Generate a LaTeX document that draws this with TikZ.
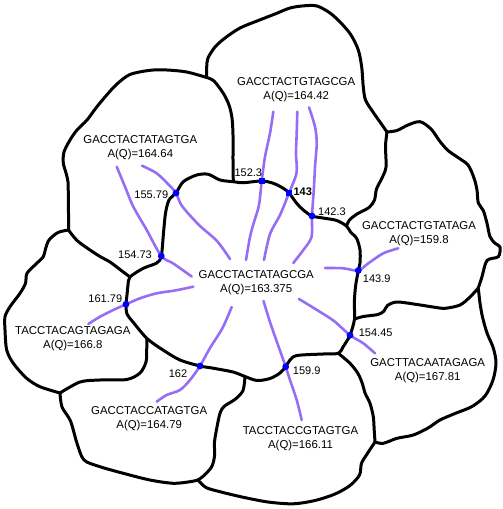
\documentclass[tikz,border=0pt]{standalone}
\usepackage{fontspec}
\setmainfont{Liberation Sans}
\definecolor{edgepurple}{RGB}{150,110,245}
\definecolor{dotblue}{RGB}{0,0,255}
\begin{document}
\begin{tikzpicture}[x=1pt,y=-1pt,
  bound/.style={line width=3pt, line join=round, line cap=round},
  edge/.style={line width=2.6pt, draw=edgepurple, line cap=round, line join=round},
  dot/.style={circle, fill=dotblue, inner sep=0pt, minimum size=6.8pt},
  sqdot/.style={rectangle, fill=dotblue, inner sep=0pt, minimum size=6.2pt},
  reg/.style={align=center, font=\fontsize{11.4}{14}\selectfont, inner sep=0pt},
  num/.style={font=\fontsize{11}{13}\selectfont, inner sep=0pt}]
\useasboundingbox (0,0) rectangle (503,509);
% junctions
\coordinate (J1) at (206.7,77.5);
\coordinate (J2) at (233.3,181.7);
\coordinate (J3) at (387,132);
\coordinate (J4) at (346.5,226);
\coordinate (J5) at (354.5,319);
\coordinate (J6) at (478.3,288);
\coordinate (J7) at (338.3,353.3);
\coordinate (J8) at (375,442);
\coordinate (J9) at (245,376.5);
\coordinate (J10) at (198,480);
\coordinate (J11) at (147,338.5);
\coordinate (J12) at (60,393);
\coordinate (J13) at (130,277);
\coordinate (J14) at (68.5,230);
% crossing points
\coordinate (P15579) at (176,193);
\coordinate (P1523) at (261.7,181);
\coordinate (P143) at (289,193);
\coordinate (P1423) at (312,216);
\coordinate (P1439) at (358.3,270.5);
\coordinate (P15445) at (350,335.2);
\coordinate (P1599) at (285.7,366.7);
\coordinate (P162) at (200,366);
\coordinate (P16179) at (126,304.3);
\coordinate (P15473) at (161.3,256);

% central region boundary
\draw[bound] plot[smooth cycle, tension=0.5] coordinates {
 (J2) (243.3,182.7) (P1523) (273.3,183.3) (283.3,188.3) (P143) (296.7,203.3) (303.3,210)
 (P1423) (323,218) (336.7,220.5) (J4) (350.5,232) (356.7,238.5) (360,250) (360,263) (P1439)
 (355.5,286.7) (354.3,303) (J5) (P15445) (343,347) (J7) (323,354) (297,355.5) (290,360)
 (P1599) (280,373) (270,378.5) (257,380.5) (J9) (233,372) (212,368) (P162) (180,360)
 (163,350) (J11) (133,322) (127,314) (P16179) (127,295) (128,285) (J13) (143.3,268.3)
 (156.7,263) (P15473) (163.5,233) (165.5,213.3) (169,200) (P15579) (183.3,181.7)
 (196.7,175) (208.3,174.3) (220,180)};

% other boundaries
\draw[bound] plot[smooth, tension=0.5] coordinates {(J1) (214,81) (223.3,93.3) (229,105)
 (232,118) (233,135) (233,160) (J2)};
\draw[bound] plot[smooth, tension=0.5] coordinates {(J1) (206.7,67) (208,58) (215,47)
 (225,38) (240,28) (257,21) (275,14) (290,8) (304,5.8) (317,6) (330,13) (341,23) (351,35)
 (358.3,50) (361.7,67) (363.3,87) (365.5,100) (373,112) (380,122) (J3)};
\draw[bound] plot[smooth, tension=0.5] coordinates {(J3) (385.5,146) (386,167) (382,178)
 (376.5,189) (374.5,200) (369,207.5) (357,214) (349.5,220) (J4)};
\draw[bound] plot[smooth, tension=0.5] coordinates {(J3) (397,130.5) (408,125) (420,121.7)
 (431,129) (440,141.5) (448,150.5) (458,157.5) (468,165) (474,178) (477,190) (478.3,203)
 (483.3,210.5) (487,223.3) (490,236.7) (495,243.3) (500,247) (498.3,256.7) (487,260.5)
 (482,276.7) (J6)};
\draw[bound] plot[smooth, tension=0.5] coordinates {(J5) (363.3,316.5) (378,314.5) (384,311)
 (387.5,305.5) (397,302) (417,304.5) (433,307) (445,308.3) (460,305) (470,297) (J6)};
\draw[bound] plot[smooth, tension=0.5] coordinates {(J6) (480,303) (482.5,317) (487,333)
 (493.3,348) (496,363) (493,380) (485,396) (472,406.5) (455,413.5) (440,420) (428,428)
 (413.3,435) (397,438.3) (383.3,443.3) (J8)};
\draw[bound] plot[smooth, tension=0.5] coordinates {(J7) (350,363.3) (358,373.5) (362.5,384)
 (365,393) (370,403.3) (373.3,416.7) (374.2,430) (J8)};
\draw[bound] plot[smooth, tension=0.5] coordinates {(J8) (367.5,453.3) (361.5,463.3)
 (359.5,475) (350,485.5) (335,494) (315,500.5) (293,503.8) (268,502) (242,497) (220,491.7)
 (206,487.5) (J10)};
\draw[bound] plot[smooth, tension=0.5] coordinates {(J9) (243,390.5) (235.5,399) (224,406.5)
 (220,413.3) (217,427) (214.5,442) (214.5,456) (211.7,466.7) (204,475.5) (J10)};
\draw[bound] plot[smooth, tension=0.5] coordinates {(J10) (190,481.7) (173.3,483.3) (150,480)
 (123.3,473.3) (100,466.7) (84,460) (77,443.3) (70.5,421) (62,407) (J12)};
\draw[bound] plot[smooth, tension=0.5] coordinates {(J11) (146.7,350) (146,362) (140,373)
 (126.7,379.5) (100,380) (80,382) (J12)};
\draw[bound] plot[smooth, tension=0.5] coordinates {(J12) (40,386.7) (26.7,378.3) (13.3,363.3)
 (6.7,350) (5,330) (5,316.7) (10,306.7) (20,293.3) (25.5,283.3) (27,273.3) (36.7,263.3)
 (43.3,256.7) (45.5,249) (49,240) (58,232.5) (J14)};
\draw[bound] plot[smooth, tension=0.5] coordinates {(J13) (120,269.5) (110,262) (100,256.5)
 (90,250) (77,240.5) (J14)};
\draw[bound] plot[smooth, tension=0.5] coordinates {(J14) (68.5,213) (68.3,198) (68,182)
 (66,173) (63.3,163) (64,152) (70,140) (77,130) (87,120) (96.7,107) (106.7,95) (117,84)
 (130,74.5) (150,70.3) (167,70) (186.7,72) (J1)};

% connectors
\draw[edge] plot[smooth, tension=0.5] coordinates {(142,165.7) (156.7,173.3) (169.5,185.5)
 (P15579) (182,206) (199,225) (217,241) (230,259)};
\draw[edge] plot[smooth, tension=0.5] coordinates {(116.7,166.7) (125,186.7) (133.3,206.7)
 (146.7,230) (P15473) (173.3,263.5) (191.7,276.5)};
\draw[edge] plot[smooth, tension=0.5] coordinates {(273.3,111.7) (270,133.3) (265,156.7)
 (P1523) (259,205) (254,222) (250,237) (246,260)};
\draw[edge] plot[smooth, tension=0.5] coordinates {(297.3,111.7) (296.7,133.3) (296,153.3)
 (296.5,173) (P143) (280,215) (270,234) (264,260)};
\draw[edge] plot[smooth, tension=0.5] coordinates {(309,107.3) (315,126.7) (316.7,143.3)
 (315,166.7) (314,186.7) (P1423) (311.5,237) (303.3,250) (293.3,263)};
\draw[edge] plot[smooth, tension=0.5] coordinates {(398.3,248.3) (383.3,253.3) (368.3,263.3)
 (P1439) (343.3,268.3) (325,268)};
\draw[edge] plot[smooth, tension=0.5] coordinates {(375,353.3) (363.3,343.3) (P15445)
 (334,321) (317,310) (299,299)};
\draw[edge] plot[smooth, tension=0.5] coordinates {(301.7,420) (296.7,400) (290,380) (P1599)
 (278,345) (270,322) (263.5,301)};
\draw[edge] plot[smooth, tension=0.5] coordinates {(156.7,401.7) (166.7,395) (180,390)
 (190,380) (P162) (210,348) (222.5,328) (231.7,307)};
\draw[edge] plot[smooth, tension=0.5] coordinates {(88.3,324) (100,316.7) (113.3,310) (P16179)
 (140,298.3) (156.7,293.3) (175,290.5) (193.3,286.7)};

% crossing dots
\node[dot] (d15579) at (P15579) {};
\node[sqdot] (d1523) at (P1523) {};
\node[sqdot] (d143) at (P143) {};
\node[dot] (d1423) at (P1423) {};
\node[dot] (d1439) at (P1439) {};
\node[dot] (d15445) at (P15445) {};
\node[dot] (d1599) at (P1599) {};
\node[dot] (d162) at (P162) {};
\node[dot] (d16179) at (P16179) {};
\node[dot] (d15473) at (P15473) {};

% weight labels
\node[num] (l15579) at (151.3,194.3) {155.79};
\node[num] (l15473) at (135,254.5) {154.73};
\node[num] (l1523) at (248.3,172.3) {152.3};
\node[num] (l143) at (302.7,192) {\bfseries 143};
\node[num] (l1423) at (332,212) {142.3};
\node[num] (l1439) at (376.7,279) {143.9};
\node[num] (l15445) at (375.7,332.7) {154.45};
\node[num] (l1599) at (306.7,370.7) {159.9};
\node[num] (l162) at (178,373.3) {162};
\node[num] (l16179) at (105.3,298.7) {161.79};

% region labels
\node[reg] (center) at (256.2,283) {GACCTACTATAGCGA\\A(Q)=163.375};
\node[reg] (r1) at (140.3,148) {GACCTACTATAGTGA\\A(Q)=164.64};
\node[reg] (r2) at (296.2,90) {GACCTACTGTAGCGA\\A(Q)=164.42};
\node[reg] (r3) at (419,234) {GACCTACTGTATAGA\\A(Q)=159.8};
\node[reg] (r4) at (427.7,370.3) {GACTTACAATAGAGA\\A(Q)=167.81};
\node[reg] (r5) at (300.5,439) {TACCTACCGTAGTGA\\A(Q)=166.11};
\node[reg] (r6) at (149.2,418.3) {GACCTACCATAGTGA\\A(Q)=164.79};
\node[reg] (r7) at (72.8,339) {TACCTACAGTAGAGA\\A(Q)=166.8};
\end{tikzpicture}
\end{document}
